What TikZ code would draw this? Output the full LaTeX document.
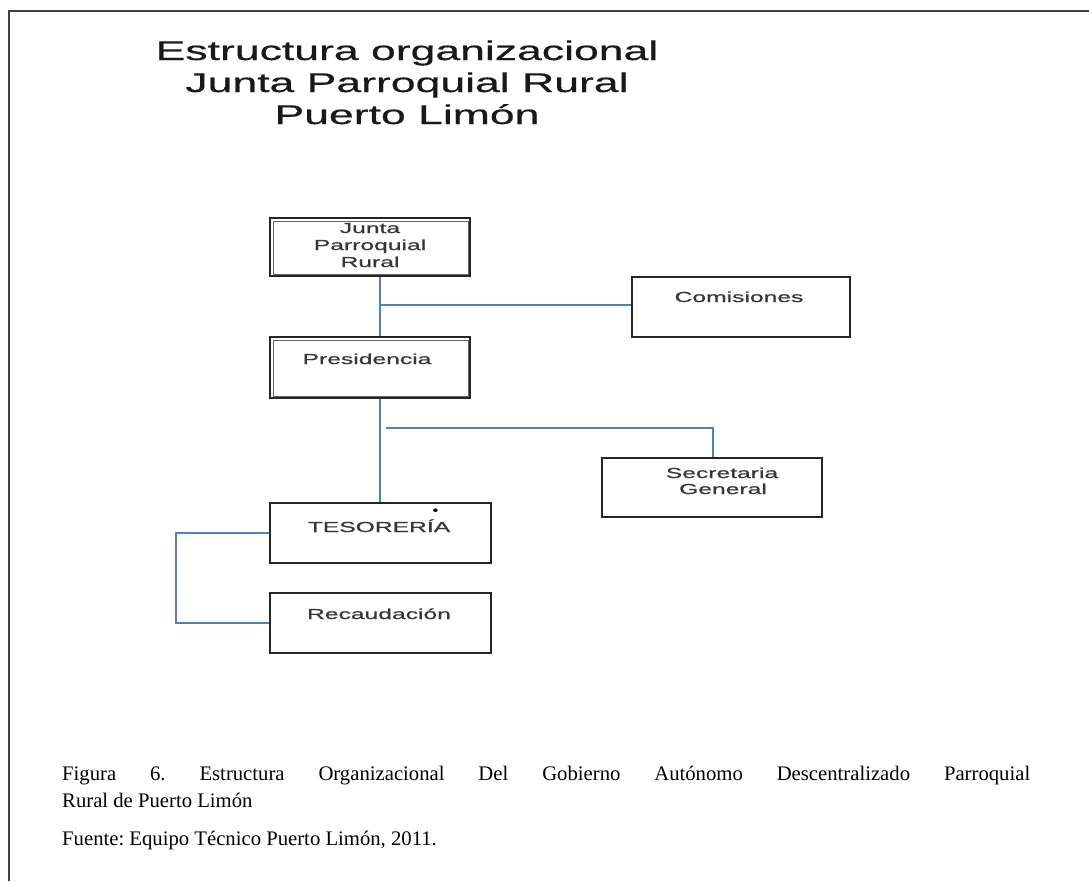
\documentclass[tikz,border=0pt]{standalone}
\usepackage{fontspec}
\setmainfont{Liberation Serif}
\newfontfamily\arialf[FakeBold=0.6]{Liberation Sans}
\newfontfamily\arialt[FakeBold=0.4]{Liberation Sans}
\usepackage{graphicx}
\definecolor{connblue}{RGB}{79,129,189}
\definecolor{boxtext}{RGB}{55,55,55}
\newcommand\boxsx[1]{\scalebox{1.7}[1]{#1}}
\newcommand\titsx[1]{\scalebox{1.65}[1]{#1}}
\tikzset{
  orgbox/.style={draw=black!85, line width=2pt, fill=white, inner sep=0pt},
  conn/.style={draw=connblue, line width=1.6pt},
  btext/.style={font=\arialf\fontsize{14.5}{17}\selectfont, text=boxtext, anchor=base, inner sep=0pt},
  ttext/.style={font=\arialt\fontsize{27}{32}\selectfont, text=black!90, anchor=base, inner sep=0pt},
  ctext/.style={font=\frenchspacing\fontsize{20.7}{25}\selectfont, text=black, anchor=base west, inner sep=0pt},
  innerline/.style={draw=black!60, line width=0.8pt}
}
\begin{document}
\begin{tikzpicture}[x=1pt,y=-1pt]
\useasboundingbox (0,0) rectangle (1089,881);
% frame
\draw[line width=1.8pt, draw=black!75] (9,881) -- (9,11) -- (1089,11);
% title
\node[ttext] (t1) at (407,60) {\titsx{Estructura organizacional}};
\node[ttext] (t2) at (407,92) {\titsx{Junta Parroquial Rural}};
\node[ttext] (t3) at (407,124) {\titsx{Puerto Limón}};
% boxes
\node[orgbox, minimum width=200pt, minimum height=58pt] (junta) at (370,247) {};
\draw[innerline] ([shift={(4,4)}]junta.north west) rectangle ([shift={(-3,-3)}]junta.south east);
\node[orgbox, minimum width=218pt, minimum height=60pt] (comis) at (741,307) {};
\node[orgbox, minimum width=200pt, minimum height=61pt] (pres) at (370,367.5) {};
\draw[innerline] ([shift={(4,4)}]pres.north west) rectangle ([shift={(-3,-3)}]pres.south east);
\node[orgbox, minimum width=220pt, minimum height=59pt] (secre) at (712,487.5) {};
\node[orgbox, minimum width=221pt, minimum height=60pt] (teso) at (380.5,533) {};
\node[orgbox, minimum width=221pt, minimum height=60pt] (reca) at (380.5,623) {};
% box texts
\node[btext] (juntaA) at (370,233) {\boxsx{Junta}};
\node[btext] (juntaB) at (370,250) {\boxsx{Parroquial}};
\node[btext] (juntaC) at (370,267) {\boxsx{Rural}};
\node[btext] (comisT) at (739,302) {\boxsx{Comisiones}};
\node[btext] (presT) at (367,364) {\boxsx{Presidencia}};
\node[btext] (secreA) at (722,478) {\boxsx{Secretaria}};
\node[btext] (secreB) at (723,494) {\boxsx{General}};
\node[btext] (tesoT) at (379,532) {\boxsx{TESORERÍA}};
\node[btext] (recaT) at (379,619) {\boxsx{Recaudación}};
\fill[black] (tesoT.north east) ++(-15,-9) ellipse (2.2pt and 1.8pt);
% connectors
\coordinate (vx) at (380,0);
\coordinate (hj) at (380,305);
\coordinate (hs1) at (386,428);
\coordinate (hs2) at (713,428);
\coordinate (lt) at (176,533);
\coordinate (lb) at (176,623);
\draw[conn] (junta.south -| vx) -- (pres.north -| vx);
\draw[conn] (hj) -- (comis.west |- hj);
\draw[conn] (pres.south -| vx) -- (teso.north -| vx);
\draw[conn] (hs1) -- (hs2) -- (secre.north -| hs2);
\draw[conn] (teso.west) -- (lt) -- (lb) -- (reca.west);
% caption
\node[ctext] (cap1) at (62,780) {\makebox[968pt][s]{Figura 6. Estructura Organizacional Del Gobierno Autónomo Descentralizado Parroquial}};
\node[ctext] (cap2) at (62,807) {Rural de Puerto Limón};
\node[ctext] (cap3) at (62,845) {Fuente: Equipo Técnico Puerto Limón, 2011.};
\end{tikzpicture}
\end{document}
